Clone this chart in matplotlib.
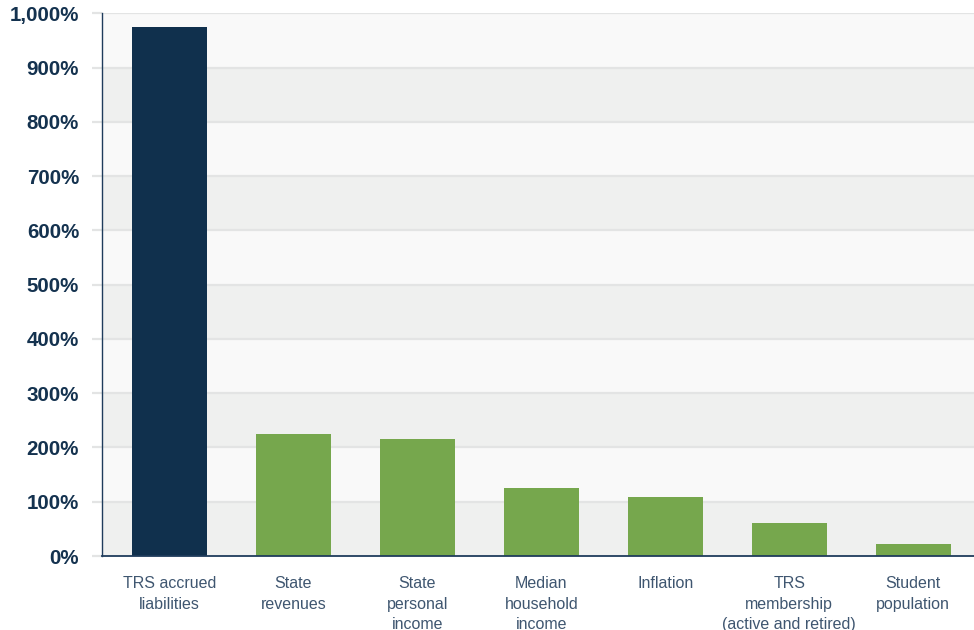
import matplotlib
matplotlib.use("Agg")
import matplotlib.pyplot as plt
from matplotlib.ticker import FuncFormatter

categories = ["TRS accrued\nliabilities", "State\nrevenues", "State\npersonal\nincome",
              "Median\nhousehold\nincome", "Inflation", "TRS\nmembership\n(active and retired)",
              "Student\npopulation"]
values = [974, 225, 216, 125, 109, 61, 22]
colors = ["#10304d", "#76a74d", "#76a74d", "#76a74d", "#76a74d", "#76a74d", "#76a74d"]
yticks = list(range(0, 1001, 100))

fig = plt.figure(figsize=(9.74, 6.3), dpi=100)
ax = fig.add_axes([102/974, (630-556)/630, (974-102)/974, (556-13.3)/630])

# alternating bands
for i, lo in enumerate(yticks[:-1]):
    ax.axhspan(lo, lo + 100, color="#eff0ef" if i % 2 == 0 else "#f9f9f9", zorder=0, lw=0)
for t in yticks[1:]:
    ax.axhline(t, color="#e3e4e4", lw=1.6, zorder=1)

x = list(range(len(categories)))
ax.bar(x, values, width=0.605, color=colors, zorder=3)

ax.set_xlim(-0.544, 6.49)
ax.set_ylim(0, 1000)
ax.set_yticks(yticks)
ax.yaxis.set_major_formatter(FuncFormatter(lambda v, p: f"{int(v):,}%"))
ax.set_xticks(x)
ax.set_xticklabels(categories, fontsize=11.5, color="#3f5670", family="Liberation Sans",
                   linespacing=1.45, va="top")
for lab in ax.get_yticklabels():
    lab.set_fontsize(14.8)
    lab.set_fontweight("bold")
    lab.set_color("#14324f")
    lab.set_family("Liberation Sans")

ax.tick_params(axis="y", length=7, width=1.6, color="#e3e4e4", pad=9.5)
ax.tick_params(axis="x", length=0, pad=14.5)

for s in ["top", "right"]:
    ax.spines[s].set_visible(False)
ax.spines["left"].set_color("#1f3c5c")
ax.spines["left"].set_linewidth(1.0)
ax.spines["bottom"].set_color("#1f3c5c")
ax.spines["bottom"].set_linewidth(1.3)
ax.spines["left"].set_zorder(4)
ax.spines["bottom"].set_zorder(4)

fig.savefig("out.png", dpi=100, facecolor="white")
